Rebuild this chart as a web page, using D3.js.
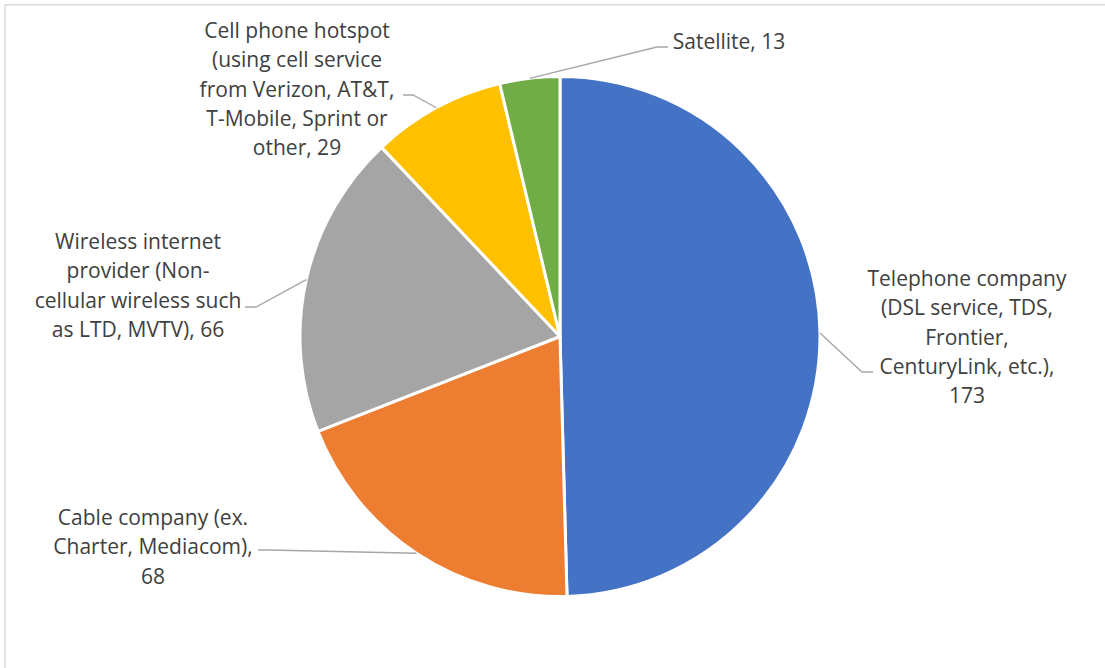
<!DOCTYPE html>
<html>
<head>
<meta charset="utf-8">
<script src="https://cdn.jsdelivr.net/npm/d3@7"></script>
<style>
  body { margin: 0; background: #fff; }
  text { font-family: "Open Sans", sans-serif; fill: #404040; }
</style>
</head>
<body>
<svg id="chart" width="1105" height="668"></svg>
<script>
// data
const categories = [
  "Telephone company (DSL service, TDS, Frontier, CenturyLink, etc.)",
  "Cable company (ex. Charter, Mediacom)",
  "Wireless internet provider (Non-cellular wireless such as LTD, MVTV)",
  "Cell phone hotspot (using cell service from Verizon, AT&T, T-Mobile, Sprint or other)",
  "Satellite"
];
const values = [173, 68, 66, 29, 13];
const colors = ["#4472C4", "#ED7D31", "#A5A5A5", "#FFC000", "#70AD47"];
const labelLines = [
  ["Telephone company", "(DSL service, TDS,", "Frontier,", "CenturyLink, etc.),", "173"],
  ["Cable company (ex.", "Charter, Mediacom),", "68"],
  ["Wireless internet", "provider (Non-", "cellular wireless such", "as LTD, MVTV), 66"],
  ["Cell phone hotspot", "(using cell service", "from Verizon, AT&T,", "T-Mobile, Sprint or", "other, 29"],
  ["Satellite, 13"]
];

// layout of labels: text centre x, first line y, leader attach point and elbow
const labelLayout = [
  { x: 967, y: 278, ax: 873, ay: 372, ex: 862 },
  { x: 153, y: 517, ax: 258, ay: 550, ex: 268 },
  { x: 138, y: 241, ax: 245, ay: 307, ex: 256 },
  { x: 297, y: 30, ax: 403, ay: 95, ex: 413 },
  { x: 729, y: 41, ax: 668, ay: 47, ex: 657 }
];

const width = 1105;
const height = 668;
const cx = 560;
const cy = 336.5;
const radius = 260;
const lineHeight = 29.3;

const svg = d3.select("#chart");

// chart border (only top and left edges show in frame)
svg.append("path")
  .attr("d", `M5,${height} V4.75 H${width}`)
  .attr("fill", "none")
  .attr("stroke", "#d9d9d9")
  .attr("stroke-width", 1.5);

const pie = d3.pie().sort(null).value(d => d)(values);
const arc = d3.arc().innerRadius(0).outerRadius(radius);

const g = svg.append("g").attr("transform", `translate(${cx},${cy})`);

g.selectAll("path.slice")
  .data(pie)
  .join("path")
  .attr("class", "slice")
  .attr("d", arc)
  .attr("fill", (d, i) => colors[i])
  .attr("stroke", "#fff")
  .attr("stroke-width", 3)
  .attr("stroke-linejoin", "round");

// leader lines from slice edge mid-angle to label
pie.forEach((d, i) => {
  const mid = (d.startAngle + d.endAngle) / 2;
  const sx = cx + radius * Math.sin(mid);
  const sy = cy - radius * Math.cos(mid);
  const L = labelLayout[i];
  svg.append("polyline")
    .attr("points", `${sx},${sy} ${L.ex},${L.ay} ${L.ax},${L.ay}`)
    .attr("fill", "none")
    .attr("stroke", "#a6a6a6")
    .attr("stroke-width", 1.3);
});

// labels
labelLines.forEach((lines, i) => {
  const L = labelLayout[i];
  const t = svg.append("text")
    .attr("text-anchor", "middle")
    .attr("font-size", "21px");
  lines.forEach((ln, j) => {
    t.append("tspan")
      .attr("x", L.x)
      .attr("y", L.y + j * lineHeight)
      .attr("dominant-baseline", "central")
      .text(ln);
  });
});
</script>
</body>
</html>
